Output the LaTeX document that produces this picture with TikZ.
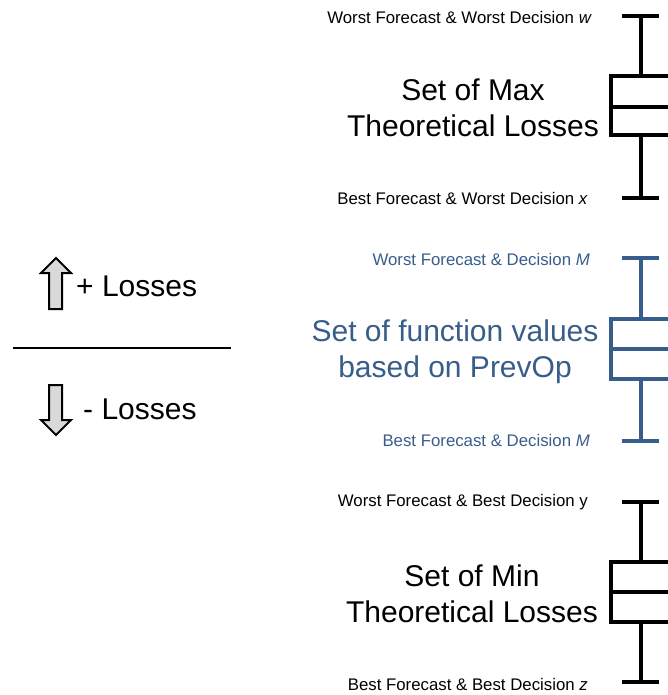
\documentclass[tikz,border=0pt]{standalone}
\usepackage{fontspec}
\setmainfont{Liberation Sans}
\begin{document}
\begin{tikzpicture}[x=1bp,y=-1bp,
  big/.style={font=\fontsize{30bp}{36bp}\selectfont, align=center, inner sep=0pt},
  small/.style={font=\fontsize{16.8bp}{20bp}\selectfont, anchor=east, inner sep=0pt},
  whisker/.style={line width=3.2bp},
  blockarrow/.style={draw=black, fill=black!15, line width=2bp, line join=miter}]
\definecolor{prevblue}{HTML}{385D8A}
\useasboundingbox (0,0) rectangle (668,695);
\clip (0,0) rectangle (668,695);

% box plot of the maximum theoretical losses
\draw[whisker] (622,16) -- (659,16);
\draw[whisker] (622,198) -- (659,198);
\draw[whisker] (641,16) -- (641,76);
\draw[whisker] (641,135) -- (641,198);
\draw[whisker] (680,76) -- (611,76) -- (611,135) -- (680,135);
\draw[whisker] (611,107) -- (680,107);
\node[small] (mxw) at (592,17) {Worst Forecast \& Worst Decision \textit{w}};
\node[small] (mxx) at (588,198) {Best Forecast \& Worst Decision \textit{x}};
\node[big] (mxlab) at (473,108) {Set of Max\\Theoretical Losses};

% box plot of the function values based on PrevOp
\begin{scope}[draw=prevblue, text=prevblue]
\draw[whisker] (622,258) -- (659,258);
\draw[whisker] (622,441) -- (659,441);
\draw[whisker] (641,258) -- (641,319);
\draw[whisker] (641,379) -- (641,441);
\draw[whisker] (680,319) -- (611,319) -- (611,379) -- (680,379);
\draw[whisker] (611,349) -- (680,349);
\node[small] (pvw) at (590,259) {Worst Forecast \& Decision \textit{M}};
\node[small] (pvb) at (590,440) {Best Forecast \& Decision \textit{M}};
\node[big] (pvlab) at (455,351.5) {Set of function values\\based on PrevOp};
\end{scope}

% box plot of the minimum theoretical losses
\draw[whisker] (622,502) -- (659,502);
\draw[whisker] (622,682) -- (659,682);
\draw[whisker] (641,502) -- (641,562);
\draw[whisker] (641,622) -- (641,682);
\draw[whisker] (680,562) -- (611,562) -- (611,622) -- (680,622);
\draw[whisker] (611,592) -- (680,592);
\node[small] (mny) at (588,502) {Worst Forecast \& Best Decision y};
\node[small] (mnz) at (588,684) {Best Forecast \& Best Decision \textit{z}};
\node[big] (mnlab) at (472,593.5) {Set of Min\\Theoretical Losses};

% legend: direction of the losses
\draw[blockarrow] (49,309) -- (49,273) -- (41,273) -- (56,258) -- (71,273) -- (62,273) -- (62,309) -- cycle;
\node[big, anchor=west] (plus) at (76,286) {+ Losses};
\draw[line width=1.6bp] (13,348) -- (231,348);
\draw[blockarrow] (49,385) -- (49,420) -- (41,420) -- (56,435) -- (71,420) -- (62,420) -- (62,385) -- cycle;
\node[big, anchor=west] (minus) at (83,409) {- Losses};
\end{tikzpicture}
\end{document}
